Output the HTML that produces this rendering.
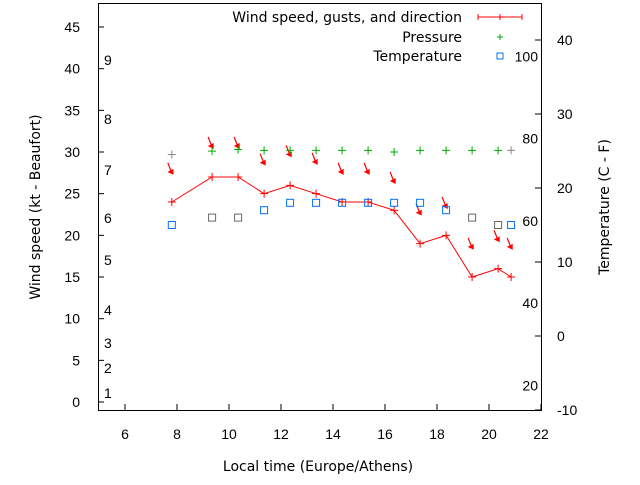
<!DOCTYPE html>
<html><head><meta charset="utf-8"><style>
body{margin:0;background:#fff;font-family:"Liberation Sans",sans-serif;}
svg text{font-family:"Liberation Sans",sans-serif;font-size:14px;fill:#000;}
svg text.w{font-family:"DejaVu Sans",sans-serif;font-size:14px;}
</style></head><body>
<svg id="c" width="640" height="480" xmlns="http://www.w3.org/2000/svg">
<rect x="98.5" y="3.5" width="443" height="407" fill="none" stroke="#000"/>
<g id="g"></g>
<text class="w" x="318" y="471" text-anchor="middle">Local time (Europe/Athens)</text>
<text class="w" transform="translate(40,207) rotate(-90)" text-anchor="middle">Wind speed (kt - Beaufort)</text>
<text class="w" transform="translate(609,207) rotate(-90)" text-anchor="middle">Temperature (C - F)</text>
<g>
<text class="w" x="462" y="22" text-anchor="end">Wind speed, gusts, and direction</text>
<line x1="478" y1="17" x2="522" y2="17" stroke="#f00"/><line x1="478" y1="14" x2="478" y2="20" stroke="#f00"/><line x1="522" y1="14" x2="522" y2="20" stroke="#f00"/><line x1="500" y1="14" x2="500" y2="20" stroke="#f00"/>
<text class="w" x="462" y="42" text-anchor="end">Pressure</text>
<path d="M497,37h6M500,34v6" stroke="#0a0"/>
<text class="w" x="462" y="61" text-anchor="end">Temperature</text>
<rect x="497" y="53" width="6" height="6" fill="none" stroke="#0070ff"/>
</g>
</svg>
<script>
const times=[7.8,9.35,10.35,11.35,12.35,13.35,14.35,15.35,16.35,17.35,18.35,19.35,20.35,20.85];
const wind=[24,27,27,25,26,25,24,24,23,19,20,15,16,15];
const gusts=[27.5,30.6,30.6,28.6,29.6,28.7,27.5,27.5,26.4,22.6,23.4,18.5,19.4,18.5];
const pressure=[29.7,30.1,30.3,30.2,30.2,30.2,30.2,30.2,30.0,30.2,30.2,30.2,30.2,30.2];
const temps=[15,16,16,17,18,18,18,18,18,18,17,16,15,15];
const xTicks=[6,8,10,12,14,16,18,20,22];
const yTicks=[0,5,10,15,20,25,30,35,40,45];
const y2Ticks=[-10,0,10,20,30,40];
const bft=[[1,393],[2,368],[3,343],[4,310],[5,260],[6,218],[7,170],[8,119],[9,60]];
const fTicks=[[20,-6.67],[40,4.44],[60,15.56],[80,26.67],[100,37.78]];
const X=t=>99+(t-5)*26;
const Y=v=>402-v*8.333;
const Y2=v=>410-(v+10)*7.4;
const NS='http://www.w3.org/2000/svg';
const g=document.getElementById('g');
function mk(tag,a){const e=document.createElementNS(NS,tag);for(const k in a)e.setAttribute(k,a[k]);g.appendChild(e);return e;}
xTicks.forEach(t=>{const x=X(t);
const l=mk('line',{x1:x,y1:410,x2:x,y2:404,stroke:'#000'});


const tx=mk('text',{x:x,y:439,'text-anchor':'middle'});tx.textContent=t;

});
yTicks.forEach(v=>{const y=Y(v);
const l=mk('line',{x1:98,y1:y,x2:104,y2:y,stroke:'#000'});


const tx=mk('text',{x:80,y:y+5,'text-anchor':'end'});tx.textContent=v;

});
y2Ticks.forEach(v=>{const y=Y2(v);
const l=mk('line',{x1:535,y1:y,x2:541,y2:y,stroke:'#000'});


const tx=mk('text',{x:557,y:y+5});tx.textContent=v;

});
bft.forEach(b=>{const tx=mk('text',{x:104,y:b[1]+5});tx.textContent=b[0];

});
fTicks.forEach(f=>{const tx=mk('text',{x:538,y:Y2(f[1])+5,'text-anchor':'end'});tx.textContent=f[0];

});
const pl=mk('polyline',{points:times.map((t,i)=>X(t)+','+Y(wind[i])).join(' '),fill:'none',stroke:'#f00'});


times.forEach((t,i)=>{const x=X(t),y=Y(wind[i]);
const p=mk('path',{d:`M${x-4},${y}h8M${x},${y-4}v8`,stroke:'#f00'});


const gy=Y(gusts[i]);
const a=mk('path',{d:`M${x-4},${gy-10}L${x},${gy}M${x-3},${gy-1}l4,2l0,-4z`,stroke:'#f00','stroke-width':1.2,fill:'#f00'});


const py=Y(pressure[i]);const pc=(i==0||i==times.length-1)?'#888':'#0a0';
const pp=mk('path',{d:`M${x-4},${py}h8M${x},${py-4}v8`,stroke:pc});


const ty=Y2(temps[i]);const tc=(i==1||i==2||i==11||i==12)?'#666':'#0070ff';
const r=mk('rect',{x:x-3.5,y:ty-3.5,width:7,height:7,fill:'none',stroke:tc});

});
</script>
</body></html>
